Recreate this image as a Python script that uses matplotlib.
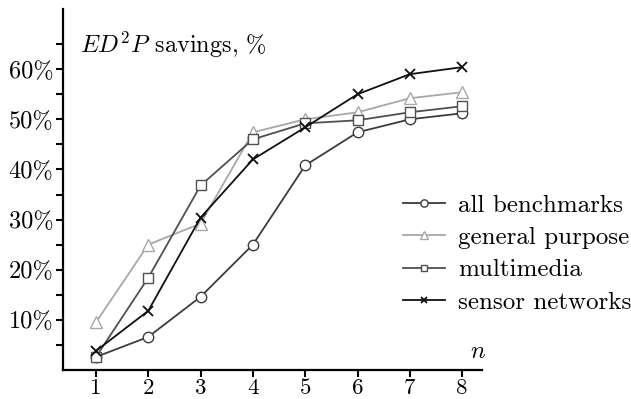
import matplotlib
matplotlib.use('Agg')
import matplotlib.pyplot as plt

plt.rcParams['font.family'] = ['cmr10', 'DejaVu Serif']
plt.rcParams['mathtext.fontset'] = 'cm'
plt.rcParams['axes.formatter.use_mathtext'] = True

# data
n = [1, 2, 3, 4, 5, 6, 7, 8]
all_bench = [2.6, 6.6, 14.6, 25.0, 40.8, 47.4, 50.0, 51.2]
general = [9.5, 25.0, 29.2, 47.4, 50.0, 51.4, 54.2, 55.4]
multimedia = [2.6, 18.4, 36.8, 46.0, 49.2, 49.8, 51.4, 52.6]
sensor = [3.8, 11.8, 30.4, 42.0, 48.4, 55.0, 59.0, 60.4]

labels = ['all benchmarks', 'general purpose', 'multimedia', 'sensor networks']
yticks = [10, 20, 30, 40, 50, 60]
ytick_labels = ['10%', '20%', '30%', '40%', '50%', '60%']

fig = plt.figure(figsize=(6.31, 3.99), dpi=100)
ax = fig.add_axes([63/631, 1-370/399, 419/631, 361/399])

fs = 17.5
ax.plot(n, all_bench, '-o', color='#3c3c3c', lw=1.3, ms=7.5, mfc='white', mec='#3c3c3c', mew=1.0, label=labels[0])
ax.plot(n, general, '-^', color='#a8a8a8', lw=1.3, ms=8.5, mfc='white', mec='#a8a8a8', mew=1.0, label=labels[1])
ax.plot(n, multimedia, '-s', color='#505050', lw=1.3, ms=6.5, mfc='white', mec='#505050', mew=1.0, label=labels[2])
ax.plot(n, sensor, '-x', color='#101010', lw=1.3, ms=7, mew=1.3, label=labels[3])

ax.set_xlim(0.37, 8.38)
ax.set_ylim(0, 72)
ax.set_xticks(n)
ax.set_xticklabels([str(v) for v in n], fontsize=16.5)
ax.set_yticks(yticks)
ax.set_yticklabels(ytick_labels, fontsize=fs)
ax.set_yticks([5, 15, 25, 35, 45, 55, 65], minor=True)
ax.tick_params(which='both', direction='out', length=5, width=1.5, pad=2)
ax.tick_params(axis='x', pad=1)
for s in ['top', 'right']:
    ax.spines[s].set_visible(False)
for s in ['left', 'bottom']:
    ax.spines[s].set_linewidth(1.6)

ax.text(0.04, 0.90, r'$ED^2P$ savings, %', transform=ax.transAxes, fontsize=fs, va='center', ha='left')
ax.text(0.99, 0.05, r'$n$', transform=ax.transAxes, fontsize=fs, va='center', ha='center')

leg = ax.legend(loc='center left', bbox_to_anchor=(403/631, 1-254/399), bbox_transform=fig.transFigure,
                frameon=False, fontsize=18, handlelength=1.7, handletextpad=0.5, labelspacing=0.4,
                borderpad=0, borderaxespad=0, markerscale=0.7)

fig.savefig('out.png', dpi=100)
